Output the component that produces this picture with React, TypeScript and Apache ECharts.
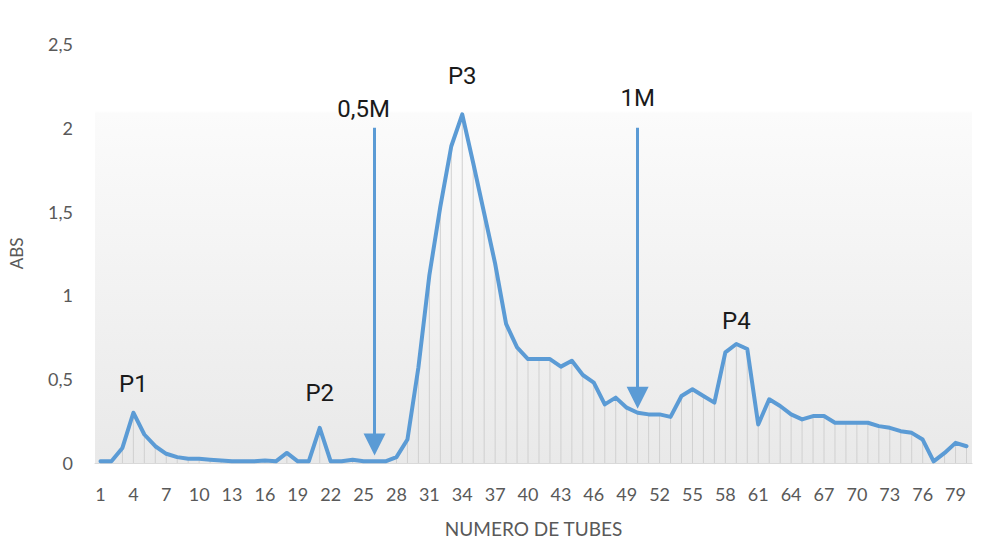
import React, { useEffect, useRef } from "react";
import * as echarts from "echarts";

const tubes: string[] = Array.from({ length: 80 }, (_, i) => String(i + 1));

const absValues: number[] = [
  0.01, 0.01, 0.09, 0.30, 0.17, 0.10, 0.055, 0.035, 0.025, 0.025,
  0.02, 0.015, 0.01, 0.01, 0.01, 0.015, 0.01, 0.06, 0.01, 0.01,
  0.21, 0.01, 0.01, 0.02, 0.01, 0.01, 0.01, 0.035, 0.14, 0.57,
  1.12, 1.53, 1.89, 2.08, 1.79, 1.49, 1.19, 0.83, 0.69, 0.62,
  0.62, 0.62, 0.575, 0.61, 0.525, 0.48, 0.35, 0.39, 0.33, 0.30,
  0.29, 0.29, 0.275, 0.40, 0.44, 0.40, 0.36, 0.66, 0.71, 0.68,
  0.23, 0.38, 0.34, 0.29, 0.26, 0.28, 0.28, 0.24, 0.24, 0.24,
  0.24, 0.22, 0.21, 0.19, 0.18, 0.14, 0.01, 0.06, 0.12, 0.10,
];

const yTicks = { min: 0, max: 2.5, interval: 0.5 };

const peakNames: string[] = ["P1", "P2", "P3", "P4"];
const peakTubes: string[] = ["4", "21", "34", "59"];
const peakLabelY: number[] = [0.47, 0.42, 2.31, 0.85];

const saltNames: string[] = ["0,5M", "1M"];
const saltTextTubes: string[] = ["25", "50"];
const saltTextY: number[] = [2.11, 2.18];
const saltArrowTubes: string[] = ["26", "50"];
const saltArrowTop: number[] = [2.0, 2.0];
const saltArrowEnd: number[] = [0.11, 0.39];

const LINE_COLOR = "#5b9bd5";
const AXIS_TEXT = "#595959";

export default function App() {
  const ref = useRef<HTMLDivElement>(null);

  useEffect(() => {
    if (!ref.current) return;
    const chart = echarts.init(ref.current, null, { renderer: "svg" });

    const annotations = [
      ...peakNames.map((n, i) => ({ name: n, coord: [peakTubes[i], peakLabelY[i]] })),
      ...saltNames.map((n, i) => ({ name: n, coord: [saltTextTubes[i], saltTextY[i]] })),
    ];

    const arrows = saltArrowTubes.map((t, i) => [
      { coord: [t, saltArrowTop[i]] },
      { coord: [t, saltArrowEnd[i]] },
    ]);

    chart.setOption({
      animation: false,
      backgroundColor: "#ffffff",
      grid: {
        left: 93.5,
        right: 21,
        top: 44,
        bottom: 90,
        show: true,
        borderWidth: 0,
        backgroundColor: new echarts.graphic.LinearGradient(0, 0, 0, 1, [
          { offset: 0, color: "#ffffff" },
          { offset: 0.16, color: "#ffffff" },
          { offset: 0.165, color: "#fbfbfb" },
          { offset: 1, color: "#e9e9e9" },
        ]),
      },
      xAxis: {
        type: "category",
        data: tubes,
        boundaryGap: true,
        name: "NUMERO DE TUBES",
        nameLocation: "middle",
        nameGap: 56,
        nameTextStyle: { color: AXIS_TEXT, fontSize: 19, fontFamily: "Lato" },
        axisLine: { show: true, lineStyle: { color: "#d9d9d9", width: 1 } },
        axisTick: { show: false },
        axisLabel: {
          interval: 2,
          color: AXIS_TEXT,
          fontSize: 18,
          fontFamily: "Lato",
          margin: 22,
        },
        splitLine: { show: false },
      },
      yAxis: {
        type: "value",
        min: yTicks.min,
        max: yTicks.max,
        interval: yTicks.interval,
        name: "ABS",
        nameLocation: "middle",
        nameGap: 70,
        nameTextStyle: { color: AXIS_TEXT, fontSize: 17, fontFamily: "Lato" },
        axisLine: { show: false },
        axisTick: { show: false },
        splitLine: { show: false },
        axisLabel: {
          color: AXIS_TEXT,
          fontSize: 18,
          fontFamily: "Lato",
          margin: 22,
          formatter: (v: number) => String(v).replace(".", ","),
        },
      },
      series: [
        {
          type: "bar",
          data: absValues,
          barWidth: 1,
          itemStyle: { color: "#d0d0d0" },
          silent: true,
          z: 1,
        },
        {
          type: "line",
          data: absValues,
          symbol: "none",
          z: 3,
          lineStyle: { color: LINE_COLOR, width: 4, cap: "round", join: "round" },
          silent: true,
          markLine: {
            silent: true,
            symbol: ["none", "triangle"],
            symbolSize: 22,
            label: { show: false },
            lineStyle: { color: LINE_COLOR, width: 3, type: "solid" },
            emphasis: { disabled: true },
            data: arrows,
          },
          markPoint: {
            silent: true,
            symbol: "circle",
            symbolSize: 0,
            itemStyle: { color: "transparent" },
            label: {
              show: true,
              position: "inside",
              formatter: "{b}",
              color: "#1a1a1a",
              fontSize: 24,
              fontFamily: "Roboto",
            },
            data: annotations,
          },
        },
      ],
    });

    return () => chart.dispose();
  }, []);

  return (
    <div
      ref={ref}
      style={{ position: "absolute", left: 0, top: 0, width: 993, height: 553 }}
    />
  );
}
